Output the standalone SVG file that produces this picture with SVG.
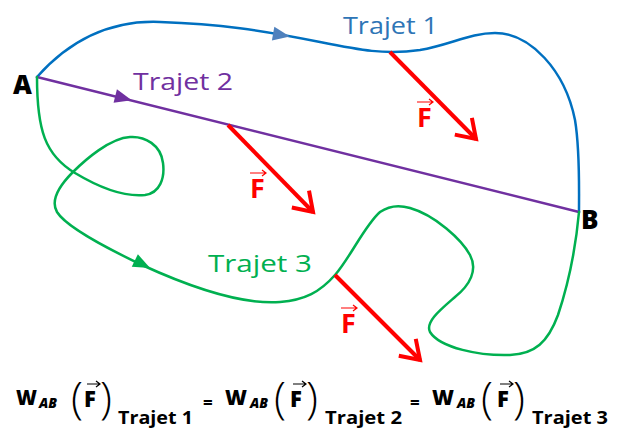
<svg xmlns="http://www.w3.org/2000/svg" xmlns:xlink="http://www.w3.org/1999/xlink" width="624" height="428" viewBox="0 0 624 428">
<style>
.lbl{font-family:"Open Sans","DejaVu Sans",sans-serif;font-size:23px}
.pt{font-family:"Open Sans","DejaVu Sans",sans-serif;font-size:26px;font-weight:800;fill:#000}
.fl{font-family:"Open Sans","DejaVu Sans",sans-serif;font-size:27px;font-weight:bold;fill:#FF0000}
.eq{font-family:"Open Sans","DejaVu Sans",sans-serif;fill:#000;font-weight:bold}
.w{font-size:21px;font-weight:800}
.ab{font-size:14px;font-style:italic;font-weight:800}
.par{font-size:44px;font-weight:300}
.f{font-size:22px;font-weight:800}
.sub{font-size:17px}
.path{fill:none;stroke-width:2.5;stroke-linecap:round;stroke-linejoin:round}
.force{stroke:#FF0000;stroke-width:4;fill:none}
.vec{fill:none;stroke-width:1.2}
</style>
<defs>
<path id="tri" d="M-8,-7 L9,0 L-8,7 Z"/>
<marker id="vhead" viewBox="-24 -15 28 30" refX="0" refY="0" markerWidth="28" markerHeight="30" markerUnits="userSpaceOnUse" orient="auto" overflow="visible">
<path d="M-18,-12 L0,0 L-18,12" fill="none" stroke="#FF0000" stroke-width="4" stroke-linejoin="miter"/>
</marker>
</defs>

<g id="connectors">
<g id="trajet1-path">
<path class="path" stroke="#0070C0" d="M37,77 C70,40 110,20 160,22 C220,24 260,30 320,42 C360,50 385,55 420,50 C450,45 470,33 495,33 C530,33 565,70 575,120 C580,150 579,185 579,212"/>
<use xlink:href="#tri" fill="#4F81BD" transform="translate(281,35) rotate(10)"/>
</g>
<g id="trajet2-path">
<path class="path" stroke="#7030A0" d="M37,77 L579,212"/>
<use xlink:href="#tri" fill="#7030A0" transform="translate(123,98) rotate(14)"/>
</g>
<g id="trajet3-path">
<path class="path" stroke="#00B050" d="M37,77 C37,130 45,155 75,173 C100,188 125,197 145,195 C160,193 165,178 163,163 C161,145 145,136 130,137 C110,138 85,160 73,172 C60,185 50,200 57,212 C65,225 100,245 142,265 C190,287 240,305 280,302 C305,300 320,292 335,275 C350,258 365,225 380,212 C390,205 400,205 410,208 C435,215 462,240 470,255 C478,270 470,285 455,297 C440,310 425,322 430,332 C440,348 480,356 510,355 C535,354 548,342 558,315 C568,285 576,245 579,212"/>
<use xlink:href="#tri" fill="#00B050" transform="translate(142,264) rotate(26)"/>
</g>
<g id="forces">
<path class="force" d="M390,52 L476,139" marker-end="url(#vhead)"/>
<path class="force" d="M228,125 L313,212" marker-end="url(#vhead)"/>
<path class="force" d="M335,275 L420,360" marker-end="url(#vhead)"/>
</g>
</g>

<g id="A"><text class="pt" x="13" y="94">A</text></g>
<g id="B"><text class="pt" x="581" y="229">B</text></g>

<g id="label-trajet1"><text class="lbl" fill="#2E75B6" x="343" y="34" textLength="95" lengthAdjust="spacingAndGlyphs">Trajet 1</text></g>
<g id="label-trajet2"><text class="lbl" fill="#7030A0" x="133" y="90" textLength="100" lengthAdjust="spacingAndGlyphs">Trajet 2</text></g>
<g id="label-trajet3"><text class="lbl" fill="#00B050" x="208" y="272" textLength="104" lengthAdjust="spacingAndGlyphs">Trajet 3</text></g>

<g id="F1">
<text class="fl" x="417" y="127">F</text>
<path class="vec" stroke="#FF0000" d="M417,102 L433,102 M429,99 L433,102 L429,105"/>
</g>
<g id="F2">
<text class="fl" x="250" y="198">F</text>
<path class="vec" stroke="#FF0000" d="M250,173 L266,173 M262,170 L266,173 L262,176"/>
</g>
<g id="F3">
<text class="fl" x="341" y="333">F</text>
<path class="vec" stroke="#FF0000" d="M341,308 L357,308 M353,305 L357,308 L353,311"/>
</g>

<g id="equation">
<text class="eq w" x="16" y="405" textLength="21" lengthAdjust="spacingAndGlyphs">W</text>
<text class="eq ab" x="39" y="408" textLength="18" lengthAdjust="spacingAndGlyphs">AB</text>
<text class="eq par" x="71" y="414">(</text>
<text class="eq f" x="84" y="407">F</text>
<path class="vec" stroke="#000" d="M87,384 L100,384 M96,381 L100,384 L96,387"/>
<text class="eq par" x="100" y="414">)</text>
<text class="eq sub" x="118" y="424" textLength="75" lengthAdjust="spacingAndGlyphs">Trajet 1</text>
<text class="eq sub" x="203" y="409">=</text>

<text class="eq w" x="225" y="405" textLength="22" lengthAdjust="spacingAndGlyphs">W</text>
<text class="eq ab" x="250" y="408" textLength="18" lengthAdjust="spacingAndGlyphs">AB</text>
<text class="eq par" x="274" y="414">(</text>
<text class="eq f" x="290" y="407">F</text>
<path class="vec" stroke="#000" d="M293,384 L306,384 M302,381 L306,384 L302,387"/>
<text class="eq par" x="306" y="414">)</text>
<text class="eq sub" x="325" y="424" textLength="77" lengthAdjust="spacingAndGlyphs">Trajet 2</text>
<text class="eq sub" x="410" y="409">=</text>

<text class="eq w" x="432" y="405" textLength="22" lengthAdjust="spacingAndGlyphs">W</text>
<text class="eq ab" x="457" y="408" textLength="18" lengthAdjust="spacingAndGlyphs">AB</text>
<text class="eq par" x="481" y="414">(</text>
<text class="eq f" x="497" y="407">F</text>
<path class="vec" stroke="#000" d="M500,384 L513,384 M509,381 L513,384 L509,387"/>
<text class="eq par" x="513" y="414">)</text>
<text class="eq sub" x="532" y="424" textLength="76" lengthAdjust="spacingAndGlyphs">Trajet 3</text>
</g>
</svg>
